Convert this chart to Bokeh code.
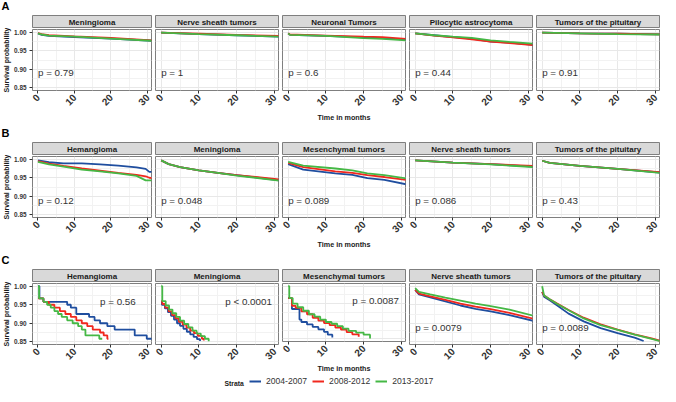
import math
from bokeh.plotting import figure
from bokeh.layouts import column, row
from bokeh.models import Range1d, FixedTicker, PrintfTickFormatter, Label, Legend, LegendItem
from bokeh.embed import file_html
from bokeh.resources import INLINE

FONT = "Liberation Sans"

# ---------------- data ----------------
strata = ["2004-2007", "2008-2012", "2013-2017"]
strata_colors = ["#1F4E9F", "#F0281E", "#45B845"]

x_ticks = [0, 10, 20, 30]
x_minor = [5, 15, 25]
y_ticks = [0.85, 0.90, 0.95, 1.00]
y_minor = [0.875, 0.925, 0.975]

row_letters = ["A", "B", "C"]
names_A = ["Meningioma", "Nerve sheath tumors", "Neuronal Tumors", "Pilocytic astrocytoma", "Tumors of the pituitary"]
names_B = ["Hemangioma", "Meningioma", "Mesenchymal tumors", "Nerve sheath tumors", "Tumors of the pituitary"]
names_C = ["Hemangioma", "Meningioma", "Mesenchymal tumors", "Nerve sheath tumors", "Tumors of the pituitary"]

pvals_A = ["p = 0.79", "p = 1", "p = 0.6", "p = 0.44", "p = 0.91"]
pvals_B = ["p = 0.12", "p = 0.048", "p = 0.089", "p = 0.086", "p = 0.43"]
pvals_C = ["p = 0.56", "p < 0.0001", "p = 0.0087", "p = 0.0079", "p = 0.0089"]
pval_x_A = [0, 0, 0, 0, 0]
pval_y_A = [0.89, 0.89, 0.89, 0.89, 0.89]
pval_x_B = [0, 0, 0, 0, 0]
pval_y_B = [0.888, 0.888, 0.888, 0.888, 0.888]
pval_x_C = [17, 17, 17, 0, 0]
pval_y_C = [0.958, 0.958, 0.958, 0.888, 0.888]

# Row A
a1_t = [0, 1, 3, 10, 20, 31.5]
a1_s04 = [0.997, 0.993, 0.990, 0.987, 0.983, 0.977]
a1_s08 = [0.998, 0.995, 0.992, 0.989, 0.985, 0.978]
a1_s13 = [0.997, 0.994, 0.991, 0.988, 0.983, 0.977]

a2_t = [0, 10, 20, 31.5]
a2_s04 = [0.999, 0.995, 0.992, 0.988]
a2_s08 = [0.999, 0.996, 0.993, 0.990]
a2_s13 = [0.999, 0.995, 0.992, 0.988]

a3_t = [0, 0.5, 10, 20, 25, 31.5]
a3_s04 = [0.997, 0.993, 0.990, 0.986, 0.984, 0.980]
a3_s08 = [0.997, 0.994, 0.991, 0.988, 0.987, 0.982]
a3_s13 = [0.997, 0.993, 0.990, 0.984, 0.982, 0.978]

a4_t = [0, 5, 10, 15, 20, 25, 31.5]
a4_s04 = [0.997, 0.992, 0.987, 0.983, 0.975, 0.972, 0.966]
a4_s08 = [0.997, 0.991, 0.986, 0.981, 0.975, 0.971, 0.965]
a4_s13 = [0.997, 0.992, 0.988, 0.985, 0.978, 0.974, 0.969]

a5_t = [0, 10, 20, 31.5]
a5_s04 = [0.999, 0.997, 0.996, 0.994]
a5_s08 = [0.999, 0.997, 0.996, 0.994]
a5_s13 = [0.999, 0.997, 0.995, 0.994]

# Row B
b1_t = [0, 3, 7, 12, 17, 22, 27, 29.5, 30.5, 31.5]
b1_s04 = [0.997, 0.992, 0.989, 0.989, 0.986, 0.983, 0.978, 0.974, 0.966, 0.966]
b1_s08 = [0.995, 0.988, 0.982, 0.975, 0.969, 0.963, 0.958, 0.954, 0.950, 0.949]
b1_s13 = [0.993, 0.986, 0.980, 0.972, 0.967, 0.962, 0.955, 0.943, 0.943, 0.943]

b2_t = [0, 2, 5, 10, 15, 20, 25, 31.5]
b2_s04 = [0.997, 0.987, 0.979, 0.970, 0.963, 0.957, 0.951, 0.943]
b2_s08 = [0.997, 0.987, 0.979, 0.970, 0.963, 0.957, 0.952, 0.945]
b2_s13 = [0.997, 0.987, 0.979, 0.970, 0.963, 0.956, 0.950, 0.942]

b3_t = [0, 4, 12.5, 17, 21, 25.5, 31.5]
b3_s04 = [0.987, 0.972, 0.962, 0.958, 0.949, 0.944, 0.932]
b3_s08 = [0.990, 0.979, 0.967, 0.963, 0.957, 0.952, 0.944]
b3_s13 = [0.993, 0.983, 0.975, 0.970, 0.962, 0.957, 0.948]

b4_t = [0, 10, 20, 31.5]
b4_s04 = [0.997, 0.991, 0.987, 0.980]
b4_s08 = [0.997, 0.991, 0.987, 0.982]
b4_s13 = [0.997, 0.991, 0.986, 0.979]

b5_t = [0, 2, 10, 20, 31.5]
b5_s04 = [0.996, 0.990, 0.982, 0.974, 0.964]
b5_s08 = [0.996, 0.990, 0.982, 0.974, 0.965]
b5_s13 = [0.996, 0.990, 0.982, 0.974, 0.963]

# Row C
c1_t04 = [0, 0.4, 1.5, 8, 9, 10.5, 14, 15.5, 17, 19, 21, 26.5, 29.8, 31.5]
c1_s04 = [1.0, 0.967, 0.958, 0.950, 0.942, 0.925, 0.917, 0.908, 0.900, 0.892, 0.883, 0.867, 0.858, 0.858]
c1_t08 = [0, 1.5, 3, 4.5, 6, 7.5, 9, 10.5, 12, 13.5, 15, 17, 18, 19, 19.3]
c1_s08 = [0.967, 0.958, 0.950, 0.942, 0.933, 0.925, 0.917, 0.908, 0.900, 0.892, 0.883, 0.875, 0.867, 0.858, 0.858]
c1_t13 = [0, 0.3, 1.5, 2.5, 3.5, 4.5, 5.5, 6.5, 8, 9.5, 11, 12, 13, 16.8, 17.6]
c1_s13 = [1.0, 0.967, 0.958, 0.950, 0.942, 0.933, 0.925, 0.917, 0.908, 0.900, 0.892, 0.883, 0.867, 0.858, 0.858]

c2_t04 = [0, 0.2, 1, 1.8, 2.6, 3.4, 4.2, 5.0, 5.9, 6.8, 7.7, 8.6, 9.5, 10.3]
c2_s04 = [0.958, 0.950, 0.940, 0.930, 0.920, 0.910, 0.900, 0.893, 0.885, 0.877, 0.870, 0.863, 0.857, 0.852]
c2_t08 = [0, 0.3, 1.1, 2.0, 2.9, 3.8, 4.7, 5.7, 6.7, 7.7, 8.7, 9.7, 10.8, 11.3]
c2_s08 = [0.960, 0.952, 0.942, 0.932, 0.922, 0.913, 0.904, 0.896, 0.888, 0.880, 0.873, 0.866, 0.858, 0.853]
c2_t13 = [0, 0.3, 1.2, 2.1, 3.0, 4.0, 5.0, 6.1, 7.2, 8.3, 9.4, 10.5, 11.6, 12.6]
c2_s13 = [1.0, 0.960, 0.948, 0.937, 0.927, 0.917, 0.907, 0.898, 0.889, 0.880, 0.872, 0.865, 0.858, 0.851]

c3_t04 = [0, 1, 3, 3.5, 5, 6.5, 8, 9.5, 10.5, 11.7]
c3_s04 = [0.966, 0.935, 0.905, 0.898, 0.891, 0.884, 0.877, 0.870, 0.862, 0.854]
c3_t08 = [0, 1, 2, 3.5, 5, 6.5, 8, 9.5, 11, 12.5, 14, 15.5, 17, 18.7]
c3_s08 = [0.966, 0.944, 0.938, 0.928, 0.920, 0.910, 0.902, 0.895, 0.889, 0.882, 0.876, 0.869, 0.863, 0.856]
c3_t13 = [0, 0.3, 1.2, 2.5, 4, 5.5, 7, 8.5, 10, 11.5, 13, 14.5, 16, 18, 20, 21.7]
c3_s13 = [1.0, 0.966, 0.950, 0.940, 0.930, 0.920, 0.913, 0.905, 0.898, 0.893, 0.886, 0.879, 0.873, 0.868, 0.862, 0.851]

c4_t = [0, 1, 4, 8, 12, 16, 20, 25, 31.5]
c4_s04 = [0.990, 0.978, 0.970, 0.959, 0.948, 0.939, 0.932, 0.922, 0.906]
c4_s08 = [0.990, 0.980, 0.973, 0.963, 0.953, 0.945, 0.938, 0.928, 0.912]
c4_s13 = [0.995, 0.985, 0.978, 0.969, 0.961, 0.953, 0.946, 0.937, 0.920]

c5_t = [0, 0.5, 2, 4, 7, 11, 15.5, 20, 24.5, 29, 31.5]
c5_t04 = [0, 0.5, 2, 4, 7, 11, 15.5, 20, 24.5, 26.9]
c5_s04 = [0.985, 0.972, 0.962, 0.948, 0.926, 0.905, 0.887, 0.873, 0.861, 0.852]
c5_s08 = [0.985, 0.975, 0.965, 0.953, 0.936, 0.915, 0.897, 0.883, 0.870, 0.859, 0.852]
c5_s13 = [1.0, 0.975, 0.965, 0.952, 0.935, 0.913, 0.895, 0.882, 0.869, 0.858, 0.851]

# ---------------- assembly of the series per panel ----------------
rows_series = [
    [
        ("line", [(a1_t, a1_s04), (a1_t, a1_s08), (a1_t, a1_s13)]),
        ("line", [(a2_t, a2_s04), (a2_t, a2_s08), (a2_t, a2_s13)]),
        ("line", [(a3_t, a3_s04), (a3_t, a3_s08), (a3_t, a3_s13)]),
        ("line", [(a4_t, a4_s04), (a4_t, a4_s08), (a4_t, a4_s13)]),
        ("line", [(a5_t, a5_s04), (a5_t, a5_s08), (a5_t, a5_s13)]),
    ],
    [
        ("line", [(b1_t, b1_s04), (b1_t, b1_s08), (b1_t, b1_s13)]),
        ("line", [(b2_t, b2_s04), (b2_t, b2_s08), (b2_t, b2_s13)]),
        ("line", [(b3_t, b3_s04), (b3_t, b3_s08), (b3_t, b3_s13)]),
        ("line", [(b4_t, b4_s04), (b4_t, b4_s08), (b4_t, b4_s13)]),
        ("line", [(b5_t, b5_s04), (b5_t, b5_s08), (b5_t, b5_s13)]),
    ],
    [
        ("step", [(c1_t04, c1_s04), (c1_t08, c1_s08), (c1_t13, c1_s13)]),
        ("step", [(c2_t04, c2_s04), (c2_t08, c2_s08), (c2_t13, c2_s13)]),
        ("step", [(c3_t04, c3_s04), (c3_t08, c3_s08), (c3_t13, c3_s13)]),
        ("line", [(c4_t, c4_s04), (c4_t, c4_s08), (c4_t, c4_s13)]),
        ("line", [(c5_t04, c5_s04), (c5_t, c5_s08), (c5_t, c5_s13)]),
    ],
]
rows_names = [names_A, names_B, names_C]
rows_pvals = [pvals_A, pvals_B, pvals_C]
rows_px = [pval_x_A, pval_x_B, pval_x_C]
rows_py = [pval_y_A, pval_y_B, pval_y_C]
rows_bottom = [37, 37, 32]

FRAME_W = 123
FRAME_H = 61
TOTAL_W = 660
LINE_W = 1.8

x_range = Range1d(-1.5, 31.1)
y_range = Range1d(0.8425, 1.0075)


def left_border(ci):
    return 28 if ci == 0 else 3


def make_strip(ci, name):
    lb = left_border(ci)
    s = figure(width=lb + FRAME_W + 1, height=14, x_range=Range1d(0, 1), y_range=Range1d(0, 1),
               x_axis_type=None, y_axis_type=None, output_backend="svg", toolbar_location=None,
               min_border_left=lb, min_border_right=1, min_border_top=1, min_border_bottom=0,
               background_fill_color="#D9D9D9", border_fill_color="white",
               outline_line_color="#7F7F7F", outline_line_width=1)
    s.add_layout(Label(x=0.5, y=0.45, text=name, text_align="center", text_baseline="middle",
                       text_font=FONT, text_font_size="8px", text_font_style="bold",
                       text_color="#1A1A1A"))
    return s


def make_panel(ci, kind, series, ptext, px, py, bottom):
    lb = left_border(ci)
    p = figure(width=lb + FRAME_W + 1, height=1 + FRAME_H + bottom,
               x_range=x_range, y_range=y_range,
               y_axis_location="left" if ci == 0 else None,
               output_backend="svg", toolbar_location=None,
               min_border_left=lb, min_border_right=1, min_border_top=1, min_border_bottom=bottom,
               background_fill_color="white", border_fill_color="white",
               outline_line_color="#7F7F7F", outline_line_width=1)
    xt = FixedTicker(ticks=x_ticks, minor_ticks=x_minor)
    yt = FixedTicker(ticks=y_ticks, minor_ticks=y_minor)
    p.xaxis.ticker = xt
    p.xgrid.ticker = xt
    p.ygrid.ticker = yt
    for g in (p.xgrid, p.ygrid):
        g.grid_line_color = "#E8E8E8"
        g.grid_line_width = 1
        g.minor_grid_line_color = "#F2F2F2"
        g.minor_grid_line_width = 1
    ax = p.xaxis[0]
    ax.axis_line_color = None
    ax.major_tick_line_color = "#333333"
    ax.major_tick_out = 3
    ax.major_tick_in = 0
    ax.minor_tick_line_color = None
    ax.major_label_orientation = math.pi / 4
    ax.major_label_standoff = 1
    ax.major_label_text_font = FONT
    ax.major_label_text_font_size = "10px"
    ax.major_label_text_font_style = "bold"
    ax.major_label_text_color = "#333333"
    if ci == 2:
        ax.axis_label = "Time in months"
        ax.axis_label_standoff = 1
        ax.axis_label_text_font = FONT
        ax.axis_label_text_font_size = "7.2px"
        ax.axis_label_text_font_style = "bold"
        ax.axis_label_text_color = "#1A1A1A"
    if ci == 0:
        ay = p.yaxis[0]
        ay.ticker = yt
        ay.formatter = PrintfTickFormatter(format="%.2f")
        ay.axis_line_color = None
        ay.major_tick_line_color = "#333333"
        ay.major_tick_out = 3
        ay.major_tick_in = 0
        ay.minor_tick_line_color = None
        ay.major_label_standoff = 2
        ay.major_label_text_font = FONT
        ay.major_label_text_font_size = "6.4px"
        ay.major_label_text_font_style = "bold"
        ay.major_label_text_color = "#333333"
        ay.axis_label = "Survival probability"
        ay.axis_label_standoff = 1
        ay.axis_label_text_font = FONT
        ay.axis_label_text_font_size = "7px"
        ay.axis_label_text_font_style = "bold"
        ay.axis_label_text_color = "#1A1A1A"
    for (t, s), c in zip(series, strata_colors):
        if kind == "step":
            p.step(t, s, mode="after", line_color=c, line_width=LINE_W)
        else:
            p.line(t, s, line_color=c, line_width=LINE_W)
    p.add_layout(Label(x=px, y=py, text=ptext, text_align="left", text_baseline="middle",
                       text_font=FONT, text_font_size="9.8px", text_color="#333333"))
    return p


def make_letter(letter):
    f = figure(width=TOTAL_W, height=14, x_range=Range1d(0, TOTAL_W), y_range=Range1d(0, 14),
               x_axis_type=None, y_axis_type=None, output_backend="svg", toolbar_location=None,
               min_border=0, outline_line_color=None)
    f.add_layout(Label(x=1, y=8.5, text=letter, text_align="left", text_baseline="middle",
                       text_font=FONT, text_font_size="11px", text_font_style="bold",
                       text_color="#000000"))
    return f


blocks = []
for r in range(3):
    cols = []
    for ci in range(5):
        kind, series = rows_series[r][ci]
        strip = make_strip(ci, rows_names[r][ci])
        panel = make_panel(ci, kind, series, rows_pvals[r][ci], rows_px[r][ci], rows_py[r][ci],
                           rows_bottom[r])
        cols.append(column(strip, panel, spacing=0))
    blocks.append(column(make_letter(row_letters[r]), row(cols, spacing=0), spacing=0))

# legend
lf = figure(width=TOTAL_W, height=10, x_range=Range1d(0, TOTAL_W), y_range=Range1d(0, 10),
            x_axis_type=None, y_axis_type=None, output_backend="svg", toolbar_location=None,
            min_border=0, outline_line_color=None)
items = []
for name, c in zip(strata, strata_colors):
    rr = lf.line(x=[float("nan")], y=[float("nan")], line_color=c, line_width=2)
    items.append(LegendItem(label=name, renderers=[rr]))
legend = Legend(items=items, orientation="horizontal", location=(249, 0),
                glyph_width=12, glyph_height=10, label_height=10, label_standoff=5, spacing=5,
                padding=0, margin=0, border_line_alpha=0, background_fill_alpha=0,
                label_text_font=FONT, label_text_font_size="8.6px", label_text_color="#333333")
lf.add_layout(legend)
lf.add_layout(Label(x=224, y=5, text="Strata", text_align="left", text_baseline="middle",
                    text_font=FONT, text_font_size="6.8px", text_font_style="bold",
                    text_color="#1A1A1A"))

layout = column(blocks[0], blocks[1], blocks[2], lf, spacing=0)

open("out.html", "w").write(file_html(layout, INLINE))
